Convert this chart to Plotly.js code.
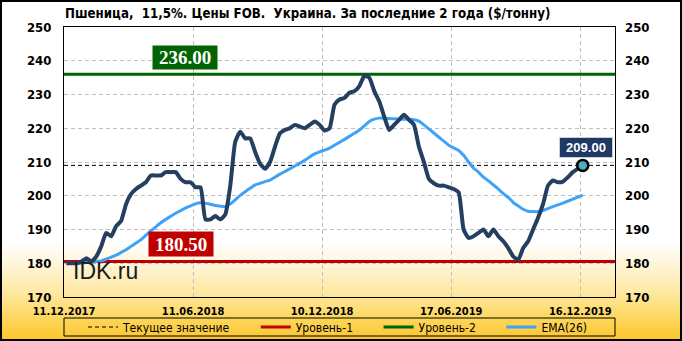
<!DOCTYPE html>
<html><head><meta charset="utf-8">
<script src="https://cdn.plot.ly/plotly-3.0.1.min.js"></script>
<style>
html,body{margin:0;padding:0;background:#fff;}
#wrap{position:relative;width:682px;height:341px;overflow:hidden;
background:linear-gradient(to bottom,#ffffff 0%,#ffffff 71%,#fff6dc 77%,#fee8a0 86%,#fdd760 93%,#fcc52a 100%);}
#chart{width:682px;height:341px;}
#frame{position:absolute;left:0;top:0;width:682px;height:341px;box-sizing:border-box;border:2px solid #000;pointer-events:none;}
</style></head><body>
<div id="wrap"><div id="chart"></div><div id="frame"></div></div>
<script>
// ---- data ----
const titleText = 'Пшеница,  11,5%. Цены FOB.  Украина. За последние 2 года ($/тонну)';
const tickLabels = ['11.12.2017','11.06.2018','10.12.2018','17.06.2019','16.12.2019'];
const tickIdx = [0, 26, 52, 78, 104];
const price = [
180,180,180,180.5,181.5,180.5,182,185,189,188,
191,192.5,197.5,200.5,202,203,204,206,206,206,
207,207,207,205,204,204,202.5,202.5,193,193,
194,193,194.5,203,216,219,217,217,213,209.5,
208,210,214.5,218.5,219.5,220,221,220.5,220,221,
222,221,219.3,220,227,228.5,229,230.5,231,232.5,
235.5,235,231,228,223.5,219.5,221,222.5,224,222.5,
221,214.5,210,205,203.7,203,203,202.5,202,201,
190,187.5,188,189,190,188,190,188,186.5,184.5,
182,181,184.5,186.5,190,193.5,197.5,203,204.5,204,
204.2,205.5,207,208,209];
const ema26 = [
180,180,180,180,180.2,180.4,180.5,180.7,181.2,181.8,
182.4,183.2,184,185,186,187,188.3,189.6,190.8,192,
193,193.9,194.8,195.6,196.4,197,197.6,197.9,197.8,197.5,
197.1,196.9,196.8,197.6,198.8,200.1,201.2,202.2,203.2,203.7,
204.2,204.6,205.5,206.4,207.2,208,208.8,209.6,210.5,211.5,
212.4,213,213.5,214.1,215,215.8,216.7,217.6,218.5,219.4,
220.7,222,222.7,223,223,222.9,222.8,222.7,222.7,222.7,
222.5,222.1,221,219.8,218.6,217.4,216.2,215,214.2,213.4,
212,210,208.2,207,205.5,204.4,203.2,202,200.6,199.5,
198,197,196,195.4,195.3,195.3,195.6,196.2,196.8,197.3,
197.8,198.4,199,199.6,200.2];
const level1 = 180.5;
const level2 = 236.0;
const seriesNames = ['Текущее значение','Уровень-1','Уровень-2','EMA(26)'];
const watermark = 'IDK.ru';

// ---- chart ----
const xIdx = price.map((_, i) => i);
const xRange = [-0.5, 110.5];
const yRange = [170, 250];
const current = price[price.length - 1];
const lastIdx = xIdx[xIdx.length - 1];

const F = "'DejaVu Sans Condensed','DejaVu Sans',sans-serif";
const pad = '\u00a0\u00a0\u00a0\u00a0\u00a0\u00a0';  // spacing after legend labels

const traces = [
  {x: xRange, y: [current, current], mode: 'lines', name: seriesNames[0] + pad,
   line: {color: '#000', width: 1, dash: '4px,3px'}, hoverinfo: 'skip'},
  {x: xRange, y: [level1, level1], mode: 'lines', name: seriesNames[1] + pad,
   line: {color: '#c00000', width: 3}, hoverinfo: 'skip'},
  {x: xRange, y: [level2, level2], mode: 'lines', name: seriesNames[2] + pad,
   line: {color: '#006400', width: 3}, hoverinfo: 'skip'},
  {x: xIdx, y: ema26, mode: 'lines', name: seriesNames[3],
   line: {color: '#3fa2f7', width: 3, shape: 'spline', smoothing: 0.5}},
  {x: xIdx, y: price, mode: 'lines', showlegend: false,
   line: {color: '#243f60', width: 4, shape: 'spline', smoothing: 0.5}},
  {x: [lastIdx], y: [current], mode: 'markers', showlegend: false, yaxis: 'y2',
   marker: {size: 11, color: '#4bacc6', line: {color: '#000', width: 2.5}}}
];

const plotL = 64, plotR = 615, plotT = 27, plotB = 297;
const px = v => (v - plotL) / (plotR - plotL);
const py = v => (plotB - v) / (plotB - plotT);

const layout = {
  width: 682, height: 341,
  margin: {l: plotL, r: 682 - plotR, t: plotT, b: 341 - plotB, autoexpand: false},
  paper_bgcolor: 'rgba(0,0,0,0)', plot_bgcolor: 'rgba(0,0,0,0)',
  font: {family: F, color: '#000'},
  title: {text: '<b>' + titleText + '</b>', x: 65 / 682, xref: 'container', xanchor: 'left',
          y: 1 - 13 / 341, yref: 'container', yanchor: 'middle',
          font: {family: F, size: 13.2, color: '#000'}},
  showlegend: true,
  legend: {orientation: 'h', x: px(83), xanchor: 'left', y: py(327), yanchor: 'middle',
           bgcolor: 'rgba(0,0,0,0)', borderwidth: 0, font: {family: F, size: 12, color: '#000'},
           traceorder: 'normal'},
  xaxis: {range: xRange, type: 'linear', tickmode: 'array',
          tickvals: tickIdx.map(i => i - 0.5), ticktext: tickLabels.map(t => '<b>' + t + '</b>'),
          ticklabelshift: 2.5, ticklabelstandoff: 4,
          tickfont: {family: F, size: 11, color: '#000'},
          showgrid: true, gridcolor: '#bfbfbf', griddash: '4px,3px', gridwidth: 1,
          showline: true, linecolor: '#000', linewidth: 1, mirror: true,
          zeroline: false, ticks: '', fixedrange: true},
  yaxis: {range: yRange, dtick: 10, tick0: 170, ticks: '',
          tickfont: {family: F, size: 13, color: '#000', weight: 'bold'},
          ticklabelstandoff: 9,
          showgrid: true, gridcolor: '#bfbfbf', griddash: '4px,3px', gridwidth: 1,
          showline: true, linecolor: '#000', linewidth: 1, mirror: true, zeroline: false},
  yaxis2: {range: yRange, dtick: 10, tick0: 170, ticks: '', overlaying: 'y', side: 'right',
           tickfont: {family: F, size: 13, color: '#000', weight: 'bold'},
           ticklabelstandoff: 9, showgrid: false, zeroline: false, showline: false},
  shapes: [
    {type: 'rect', xref: 'paper', yref: 'paper', x0: 0, x1: 1, y0: py(318), y1: py(336),
     line: {color: '#000', width: 1}, fillcolor: 'rgba(0,0,0,0)', layer: 'above'}
  ],
  annotations: [
    {xref: 'paper', yref: 'paper', x: px(185), y: py(57), xanchor: 'center', yanchor: 'middle',
     text: '<b>' + level2.toFixed(2) + '</b>', showarrow: false, bgcolor: '#006400',
     width: 62, height: 21, borderpad: 1,
     font: {family: "'Liberation Serif',serif", size: 19, color: '#fff'}},
    {xref: 'paper', yref: 'paper', x: px(181), y: py(244), xanchor: 'center', yanchor: 'middle',
     text: '<b>' + level1.toFixed(2) + '</b>', showarrow: false, bgcolor: '#c00000',
     width: 62, height: 22, borderpad: 1,
     font: {family: "'Liberation Serif',serif", size: 19, color: '#fff'}},
    {xref: 'paper', yref: 'paper', x: px(586), y: py(147), xanchor: 'center', yanchor: 'middle',
     text: '<b>' + current.toFixed(2) + '</b>', showarrow: false, bgcolor: '#1f3864',
     bordercolor: '#d0d0d0', borderwidth: 1, width: 50, height: 17, borderpad: 1,
     font: {family: "'Liberation Sans',Arial,sans-serif", size: 13, color: '#fff'}},
    {xref: 'paper', yref: 'paper', x: px(71), y: py(271), xanchor: 'left', yanchor: 'middle',
     text: watermark, showarrow: false,
     font: {family: "'Liberation Sans',Arial,sans-serif", size: 23, color: '#1a1a1a'}}
  ]
};

Plotly.newPlot('chart', traces, layout, {staticPlot: true, displayModeBar: false});
</script>
</body></html>
